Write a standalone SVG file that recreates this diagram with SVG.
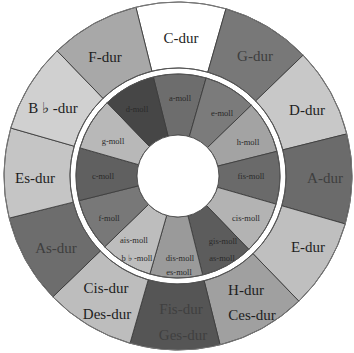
<svg xmlns="http://www.w3.org/2000/svg" xmlns:xlink="http://www.w3.org/1999/xlink" width="354" height="353" viewBox="0 0 354 353">
<style>
.seg{stroke:#3a3a3a;stroke-width:0.8}
.maj{font-family:"Liberation Serif","Times New Roman",serif;font-size:15px;fill:#1e1e1e;text-anchor:middle}
.majd{fill:#3e3e3e}
.min{font-family:"Liberation Serif","Times New Roman",serif;font-size:8.5px;fill:#2a2a2a;text-anchor:middle}
.ring{fill:none;stroke:#555;stroke-width:1}
</style>
<defs>
<path id="outerSeg" d="M132.965,7.929 A174,174 0 0 1 223.035,7.929 L205.952,71.680 A108,108 0 0 0 150.048,71.680 Z"/>
<path id="innerSeg" d="M151.6,77.476 A102,102 0 0 1 204.4,77.476 L188.612,136.397 A41,41 0 0 0 167.388,136.397 Z"/>
</defs>
<rect width="354" height="353" fill="#fff"/>
<g id="C-dur"><use xlink:href="#outerSeg" href="#outerSeg" class="seg" fill="#ffffff" transform="rotate(1 178 176)"/><text class="maj" x="181" y="43">C-dur</text></g>
<g id="G-dur"><use xlink:href="#outerSeg" href="#outerSeg" class="seg" fill="#787878" transform="rotate(31 178 176)"/><text class="maj majd" x="255" y="61">G-dur</text></g>
<g id="D-dur"><use xlink:href="#outerSeg" href="#outerSeg" class="seg" fill="#c8c8c8" transform="rotate(61 178 176)"/><text class="maj" x="307" y="115">D-dur</text></g>
<g id="A-dur"><use xlink:href="#outerSeg" href="#outerSeg" class="seg" fill="#6b6b6b" transform="rotate(91 178 176)"/><text class="maj majd" x="325" y="183">A-dur</text></g>
<g id="E-dur"><use xlink:href="#outerSeg" href="#outerSeg" class="seg" fill="#bfbfbf" transform="rotate(121 178 176)"/><text class="maj" x="308" y="252">E-dur</text></g>
<g id="H-dur"><use xlink:href="#outerSeg" href="#outerSeg" class="seg" fill="#a0a0a0" transform="rotate(151 178 176)"/><text class="maj" x="246" y="295">H-dur</text><text class="maj" x="252" y="320">Ces-dur</text></g>
<g id="Fis-dur"><use xlink:href="#outerSeg" href="#outerSeg" class="seg" fill="#555555" transform="rotate(181 178 176)"/><text class="maj" x="181" y="314" style="fill:#404040">Fis-dur</text><text class="maj" x="183" y="340" style="fill:#404040">Ges-dur</text></g>
<g id="Cis-dur"><use xlink:href="#outerSeg" href="#outerSeg" class="seg" fill="#bdbdbd" transform="rotate(211 178 176)"/><text class="maj" x="106" y="293">Cis-dur</text><text class="maj" x="107" y="319">Des-dur</text></g>
<g id="As-dur"><use xlink:href="#outerSeg" href="#outerSeg" class="seg" fill="#6d6d6d" transform="rotate(241 178 176)"/><text class="maj majd" x="56" y="253">As-dur</text></g>
<g id="Es-dur"><use xlink:href="#outerSeg" href="#outerSeg" class="seg" fill="#c5c5c5" transform="rotate(271 178 176)"/><text class="maj" x="35" y="183">Es-dur</text></g>
<g id="B-dur"><use xlink:href="#outerSeg" href="#outerSeg" class="seg" fill="#d0d0d0" transform="rotate(301 178 176)"/><text class="maj" x="53" y="113">B ♭ -dur</text></g>
<g id="F-dur"><use xlink:href="#outerSeg" href="#outerSeg" class="seg" fill="#a8a8a8" transform="rotate(331 178 176)"/><text class="maj" x="105" y="62">F-dur</text></g>

<g id="a-moll"><use xlink:href="#innerSeg" href="#innerSeg" class="seg" fill="#6d6d6d" transform="rotate(1 178 176)"/><text class="min" x="180" y="101">a-moll</text></g>
<g id="e-moll"><use xlink:href="#innerSeg" href="#innerSeg" class="seg" fill="#7b7b7b" transform="rotate(31 178 176)"/><text class="min" x="222" y="116">e-moll</text></g>
<g id="h-moll"><use xlink:href="#innerSeg" href="#innerSeg" class="seg" fill="#a3a3a3" transform="rotate(61 178 176)"/><text class="min" x="248" y="145">h-moll</text></g>
<g id="fis-moll"><use xlink:href="#innerSeg" href="#innerSeg" class="seg" fill="#6a6a6a" transform="rotate(91 178 176)"/><text class="min" x="251" y="179">fis-moll</text></g>
<g id="cis-moll"><use xlink:href="#innerSeg" href="#innerSeg" class="seg" fill="#b3b3b3" transform="rotate(121 178 176)"/><text class="min" x="246" y="221">cis-moll</text></g>
<g id="gis-moll"><use xlink:href="#innerSeg" href="#innerSeg" class="seg" fill="#5c5c5c" transform="rotate(151 178 176)"/><text class="min" x="223" y="244">gis-moll</text><text class="min" x="222" y="261">as-moll</text></g>
<g id="dis-moll"><use xlink:href="#innerSeg" href="#innerSeg" class="seg" fill="#9a9a9a" transform="rotate(181 178 176)"/><text class="min" x="180" y="261">dis-moll</text><text class="min" x="179" y="275">es-moll</text></g>
<g id="ais-moll"><use xlink:href="#innerSeg" href="#innerSeg" class="seg" fill="#bdbdbd" transform="rotate(211 178 176)"/><text class="min" x="134" y="243">ais-moll</text><text class="min" x="137" y="261">b ♭ -moll</text></g>
<g id="f-moll"><use xlink:href="#innerSeg" href="#innerSeg" class="seg" fill="#787878" transform="rotate(241 178 176)"/><text class="min" x="109" y="221">f-moll</text></g>
<g id="c-moll"><use xlink:href="#innerSeg" href="#innerSeg" class="seg" fill="#606060" transform="rotate(271 178 176)"/><text class="min" x="103" y="179">c-moll</text></g>
<g id="g-moll"><use xlink:href="#innerSeg" href="#innerSeg" class="seg" fill="#b8b8b8" transform="rotate(301 178 176)"/><text class="min" x="113" y="144">g-moll</text></g>
<g id="d-moll"><use xlink:href="#innerSeg" href="#innerSeg" class="seg" fill="#464646" transform="rotate(331 178 176)"/><text class="min" x="137" y="112">d-moll</text></g>

<circle class="ring" cx="178" cy="176" r="174" style="stroke:#777"/>
<circle class="ring" cx="178" cy="176" r="108"/>
<circle class="ring" cx="178" cy="176" r="102"/>
<circle cx="178" cy="176" r="41" fill="#fff" stroke="#555" stroke-width="1"/>
</svg>
